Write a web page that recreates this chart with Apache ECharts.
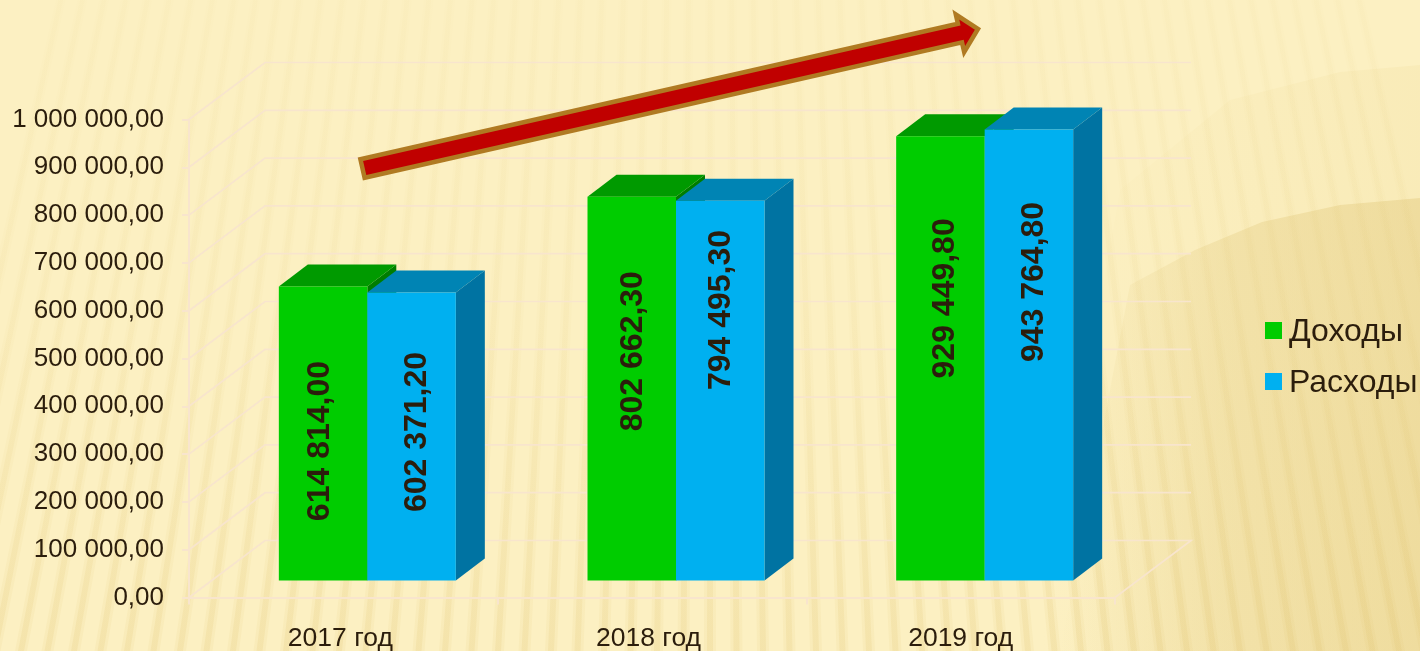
<!DOCTYPE html>
<html>
<head>
<meta charset="utf-8">
<style>html,body{margin:0;padding:0;background:#fcf0c2}#c{width:1420px;height:651px}</style>
<script src="https://cdn.jsdelivr.net/npm/echarts@6/dist/echarts.min.js"></script>
</head>
<body>
<div id="c"></div>
<script>
const categories = ['2017 год', '2018 год', '2019 год'];
const incomeName = 'Доходы';
const expenseName = 'Расходы';
const income = [614814.00, 802662.30, 929449.80];
const expense = [602371.20, 794495.30, 943764.80];
const yTicks = [0, 100000, 200000, 300000, 400000, 500000, 600000, 700000, 800000, 900000, 1000000];

const FONT = '"Liberation Sans", Arial, sans-serif';
const INK = '#2b1d0c';
const GRID = '#f8e5cd';
const WALL = { dx: 76, dy: -57 };
const FLOOR = { dx: 24, dy: -17 };
const DEPTH = { dx: 29, dy: -22 };
const BAR_W = 88.5;
const labelNudgeIncome = [[-3, 7.5], [1, -37.5], [5, -60]];
const labelNudgeExpense = [[6, -4.5], [1, -80.6], [5, -73]];
const xLabelPad = [6, 7, 0];

function money(v) {
  const p = v.toFixed(2).split('.');
  return p[0].replace(/\B(?=(\d{3})+(?!\d))/g, ' ') + ',' + p[1];
}

function barSeries(name, values, side, front, top, right, nudge) {
  return {
    type: 'custom', name, clip: false, z: 3,
    itemStyle: { color: front },
    data: values.map((v, i) => [i, v]),
    renderItem(params, api) {
      const i = api.value(0);
      const base = api.coord([i, 0]);
      const head = api.coord([i, api.value(1)]);
      const x0 = base[0] + FLOOR.dx + (side < 0 ? -BAR_W : 0);
      const x1 = x0 + BAR_W;
      const yB = base[1] + FLOOR.dy;
      const yT = head[1] + FLOOR.dy;
      const dx = DEPTH.dx, dy = DEPTH.dy;
      const n = nudge[i];
      return {
        type: 'group',
        children: [
          { type: 'polygon', shape: { points: [[x1, yT], [x1 + dx, yT + dy], [x1 + dx, yB + dy], [x1, yB]] }, style: { fill: right } },
          { type: 'polygon', shape: { points: [[x0, yT], [x0 + dx, yT + dy], [x1 + dx, yT + dy], [x1, yT]] }, style: { fill: top } },
          { type: 'rect', shape: { x: x0, y: yT, width: BAR_W, height: yB - yT }, style: { fill: front } },
          { type: 'text', x: (x0 + x1) / 2 + n[0], y: (yT + yB) / 2 + n[1], rotation: Math.PI / 2, z2: 10,
            style: { text: money(api.value(1)), fill: INK, font: 'bold 32px ' + FONT, align: 'center', verticalAlign: 'middle' } }
        ]
      };
    }
  };
}

const wallSeries = {
  type: 'custom', silent: true, clip: false, z: 1,
  data: yTicks.map(v => [0, v]),
  renderItem(params, api) {
    const p = api.coord([0, api.value(1)]);
    const left = p[0] - api.size([1, 0])[0] / 2;
    const width = api.size([1, 0])[0] * categories.length;
    const sty = { stroke: GRID, lineWidth: 1.7, fill: 'none' };
    const pts = [[left, p[1]], [left + WALL.dx, p[1] + WALL.dy], [left + width + WALL.dx, p[1] + WALL.dy]];
    if (api.value(1) === 0) pts.push([left + width, p[1]]);
    return { type: 'polyline', shape: { points: pts }, style: sty };
  }
};

/* decorative backdrop */
const backdrop = [];
const VP = [710, -2900];
function fanX(x651, y) { return VP[0] + (x651 - VP[0]) * (y - VP[1]) / (651 - VP[1]); }
backdrop.push({ type: 'rect', z: -20, silent: true, shape: { x: 0, y: 0, width: 1420, height: 651 }, style: { fill: '#fcf0c2' } });
for (let i = -30; i <= 30; i++) {
  const c = 710 + i * 26.5;
  [[12, 0.6], [6, 1]].forEach(([w, a]) => {
    backdrop.push({
      type: 'polygon', z: -18, silent: true,
      shape: { points: [[fanX(c - w / 2, 0), 0], [fanX(c + w / 2, 0), 0], [c + w / 2, 651], [c - w / 2, 651]] },
      style: { opacity: a, fill: { type: 'linear', x: 0, y: 0, x2: 0, y2: 1, colorStops: [
        { offset: 0, color: 'rgba(226,200,120,0.04)' },
        { offset: 0.45, color: 'rgba(226,200,120,0.08)' },
        { offset: 1, color: 'rgba(222,192,105,0.17)' }] } }
    });
  });
}
backdrop.push({
  type: 'polygon', z: -19, silent: true,
  shape: { points: [[1120, 190], [1230, 100], [1340, 72], [1420, 65], [1420, 651], [1040, 651]] },
  style: { fill: { type: 'linear', x: 0, y: 0, x2: 1, y2: 0, colorStops: [
    { offset: 0, color: 'rgba(238,218,150,0)' }, { offset: 0.6, color: 'rgba(238,218,150,0.14)' }, { offset: 1, color: 'rgba(238,218,150,0.22)' }] } }
});
backdrop.push({
  type: 'polygon', z: -19, silent: true,
  shape: { points: [[1130, 285], [1195, 250], [1262, 222], [1340, 205], [1420, 198], [1420, 651], [1060, 651]] },
  style: { fill: { type: 'linear', x: 0, y: 0, x2: 1, y2: 0, colorStops: [
    { offset: 0, color: 'rgba(228,204,130,0)' }, { offset: 0.45, color: 'rgba(228,204,130,0.34)' }, { offset: 1, color: 'rgba(228,204,130,0.48)' }] } }
});

const arrow = {
  type: 'polygon', z: 50, silent: true,
  shape: { points: [[364.6, 177.8], [962, 42.4], [964.2, 52], [978, 29], [955.8, 14.5], [957.9, 23.8], [360.4, 159.2]] },
  style: { fill: '#c00000', stroke: '#b07a22', lineWidth: 4.5, lineJoin: 'miter', miterLimit: 6 }
};

const rich = {};
xLabelPad.forEach((p, i) => { rich['c' + i] = { color: INK, fontFamily: FONT, fontSize: 26.5, padding: [0, p, 0, 0] }; });

const chart = echarts.init(document.getElementById('c'), null, { renderer: 'canvas' });
chart.setOption({
  animation: false,
  backgroundColor: '#fcf0c2',
  textStyle: { fontFamily: FONT, color: INK },
  tooltip: { show: false },
  grid: { left: 189, right: 305, top: 119.5, bottom: 53.5, containLabel: false, outerBoundsMode: 'none' },
  xAxis: {
    type: 'category', data: categories, boundaryGap: true,
    axisLine: { show: true, lineStyle: { color: GRID, width: 2 } },
    axisTick: { show: true, length: 7, lineStyle: { color: GRID, width: 2 } },
    axisLabel: { color: INK, fontFamily: FONT, fontSize: 26.5, margin: 28, rich,
      formatter: (v, i) => '{c' + i + '|' + v + '}' },
    splitLine: { show: false }
  },
  yAxis: {
    type: 'value', min: 0, max: 1000000, interval: 100000,
    axisLine: { show: true, lineStyle: { color: GRID, width: 2 } },
    axisTick: { show: true, length: 7, lineStyle: { color: GRID, width: 2 } },
    axisLabel: { color: INK, fontFamily: FONT, fontSize: 26, margin: 25, formatter: v => money(v) },
    splitLine: { show: false }
  },
  legend: {
    show: true, orient: 'vertical', left: 1260, top: 311.5,
    data: [{ name: incomeName, icon: 'rect' }, { name: expenseName, icon: 'rect' }],
    itemWidth: 17, itemHeight: 17, itemGap: 19,
    formatter: '{t|{name}}',
    textStyle: { color: INK, fontFamily: FONT, fontSize: 32,
      rich: { t: { color: INK, fontFamily: FONT, fontSize: 32, padding: [4, 0, 0, 2] } } }
  },
  series: [
    wallSeries,
    barSeries(incomeName, income, -1, '#00cc00', '#009a00', '#007d00', labelNudgeIncome),
    barSeries(expenseName, expense, 1, '#00b0f0', '#0084b4', '#0073a2', labelNudgeExpense)
  ],
  graphic: { elements: backdrop.concat([arrow]) }
});
</script>
</body>
</html>
